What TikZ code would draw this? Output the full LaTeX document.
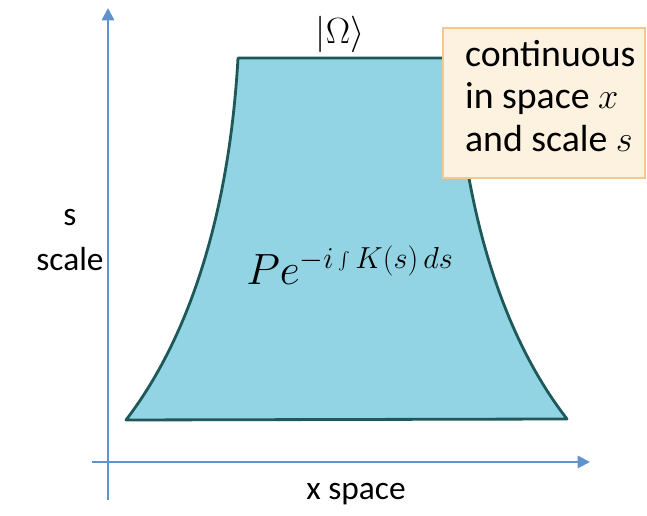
\documentclass[tikz,border=0pt]{standalone}
\usepackage{fontspec}
\setmainfont{Carlito}
\usepackage{tikz}
\usetikzlibrary{arrows.meta,positioning}

\definecolor{axisblue}{RGB}{96,146,205}
\definecolor{bodyfill}{RGB}{146,212,228}
\definecolor{bodyline}{RGB}{30,88,88}
\definecolor{notefill}{RGB}{253,242,224}
\definecolor{noteline}{RGB}{247,200,140}

\begin{document}
\begin{tikzpicture}[x=0.02cm, y=-0.02cm,
  axis/.style={draw=axisblue, line width=1.2pt, -{Triangle[length=7pt, width=7pt]}},
  body/.style={fill=bodyfill, draw=bodyline, line width=1.6pt, line join=round},
  note/.style={fill=notefill, draw=noteline, line width=1.4pt, inner sep=0pt, minimum width=202*0.02cm, minimum height=150*0.02cm},
  notetext/.style={align=left, font=\fontsize{21.5}{24}\selectfont, inner sep=0pt},
  lbl/.style={font=\fontsize{19}{26}\selectfont, align=center, inner sep=0pt}
]
\useasboundingbox (0,0) rectangle (647,516);

% axes
\coordinate (ybot) at (108,500);
\coordinate (ytop) at (108,8);
\coordinate (xleft) at (92,462);
\coordinate (xright) at (590,462);
\draw[axis] (ybot) -- (ytop);
\draw[axis] (xleft) -- (xright);

% the curved trapezoid
\path[body] (238,58) -- (455,58)
  .. controls (463,200) and (498,330) .. (567,419)
  -- (126,420)
  .. controls (195,330) and (230,200) .. (238,58) -- cycle;

% labels
\node[lbl, font=\fontsize{22}{26}\selectfont] (omega) at (340,34) {$|\Omega\rangle$};
\node[lbl] (sscale) at (70,240) {s\\scale};
\node[lbl] (xspace) at (356,494) {x space};
\node[font=\fontsize{24}{28}\selectfont] (kernel) at (350,265) {$Pe^{-i\int K(s)\,ds}$};

% note box
\node[note] (contin) at (544,103) {};
\node[notetext, anchor=west] (conttxt) at ([xshift=0.46cm, yshift=0.14cm]contin.west) {continuous\\in space $x$\\and scale $s$};
\end{tikzpicture}
\end{document}
